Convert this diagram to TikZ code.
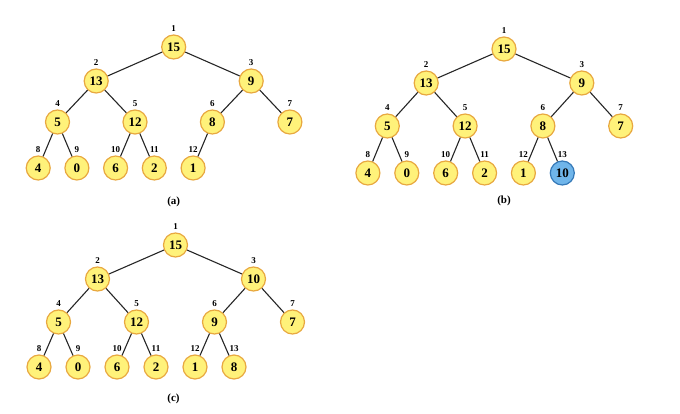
\documentclass[tikz,border=0pt]{standalone}
\usepackage{fontspec}
\setmainfont{Liberation Serif}
\usetikzlibrary{positioning}

\definecolor{heapfill}{HTML}{FFF27A}
\definecolor{heapline}{HTML}{E8A840}
\definecolor{newfill}{HTML}{6FB5EA}
\definecolor{newline}{HTML}{3579B8}

\begin{document}
\begin{tikzpicture}[
    x=1pt, y=-1pt,
    key/.style={circle, draw=heapline, fill=heapfill, line width=1.2pt,
      minimum size=24pt, inner sep=0pt, font=\fontsize{13}{13}\selectfont\bfseries},
    inserted/.style={key, draw=newline, fill=newfill},
    idx/.style={font=\fontsize{9}{9}\selectfont\bfseries, inner sep=1pt, label distance=2pt},
    caption/.style={font=\fontsize{11}{11}\selectfont\bfseries},
    edge/.style={line width=1.1pt, black!85}
  ]
  \useasboundingbox (0,0) rectangle (680,414);

  % (a) the heap
  \begin{scope}[shift={(173.7,47)}]
    \node[key, label={[idx]above:1}] (a1) at (0,0) {15};
    \node[key, label={[idx]above:2}] (a2) at (-77.5,34) {13};
    \node[key, label={[idx]above:3}] (a3) at (77.5,34) {9};
    \node[key, label={[idx]above:4}] (a4) at (-116.2,75) {5};
    \node[key, label={[idx]above:5}] (a5) at (-38.7,75) {12};
    \node[key, label={[idx]above:6}] (a6) at (38.7,75) {8};
    \node[key, label={[idx]above:7}] (a7) at (116.2,75) {7};
    \node[key, label={[idx]above:8}] (a8) at (-135.5,121) {4};
    \node[key, label={[idx]above:9}] (a9) at (-96.8,121) {0};
    \node[key, label={[idx]above:10}] (a10) at (-58.1,121) {6};
    \node[key, label={[idx]above:11}] (a11) at (-19.4,121) {2};
    \node[key, label={[idx]above:12}] (a12) at (19.4,121) {1};
    \node[caption] (capa) at (0,155) {(a)};
    \draw[edge] (a1) -- (a2) (a1) -- (a3);
    \draw[edge] (a2) -- (a4) (a2) -- (a5) (a3) -- (a6) (a3) -- (a7);
    \draw[edge] (a4) -- (a8) (a4) -- (a9) (a5) -- (a10) (a5) -- (a11);
    \draw[edge] (a6) -- (a12);
  \end{scope}

  % (b) new key added at position 13
  \begin{scope}[shift={(504,49)}]
    \node[key, label={[idx]above:1}] (b1) at (0,0) {15};
    \node[key, label={[idx]above:2}] (b2) at (-77.8,34) {13};
    \node[key, label={[idx]above:3}] (b3) at (77.8,34) {9};
    \node[key, label={[idx]above:4}] (b4) at (-116.7,77) {5};
    \node[key, label={[idx]above:5}] (b5) at (-38.9,77) {12};
    \node[key, label={[idx]above:6}] (b6) at (38.9,77) {8};
    \node[key, label={[idx]above:7}] (b7) at (116.7,77) {7};
    \node[key, label={[idx]above:8}] (b8) at (-136.1,124) {4};
    \node[key, label={[idx]above:9}] (b9) at (-97.2,124) {0};
    \node[key, label={[idx]above:10}] (b10) at (-58.3,124) {6};
    \node[key, label={[idx]above:11}] (b11) at (-19.4,124) {2};
    \node[key, label={[idx]above:12}] (b12) at (19.4,124) {1};
    \node[inserted, label={[idx]above:13}] (b13) at (58.3,124) {10};
    \node[caption] (capb) at (0,152) {(b)};
    \draw[edge] (b1) -- (b2) (b1) -- (b3);
    \draw[edge] (b2) -- (b4) (b2) -- (b5) (b3) -- (b6) (b3) -- (b7);
    \draw[edge] (b4) -- (b8) (b4) -- (b9) (b5) -- (b10) (b5) -- (b11);
    \draw[edge] (b6) -- (b12) (b6) -- (b13);
  \end{scope}

  % (c) after sifting up
  \begin{scope}[shift={(175.5,245)}]
    \node[key, label={[idx]above:1}] (c1) at (0,0) {15};
    \node[key, label={[idx]above:2}] (c2) at (-78,34) {13};
    \node[key, label={[idx]above:3}] (c3) at (78,34) {10};
    \node[key, label={[idx]above:4}] (c4) at (-117,77) {5};
    \node[key, label={[idx]above:5}] (c5) at (-39,77) {12};
    \node[key, label={[idx]above:6}] (c6) at (39,77) {9};
    \node[key, label={[idx]above:7}] (c7) at (117,77) {7};
    \node[key, label={[idx]above:8}] (c8) at (-136.5,122) {4};
    \node[key, label={[idx]above:9}] (c9) at (-97.5,122) {0};
    \node[key, label={[idx]above:10}] (c10) at (-58.5,122) {6};
    \node[key, label={[idx]above:11}] (c11) at (-19.5,122) {2};
    \node[key, label={[idx]above:12}] (c12) at (19.5,122) {1};
    \node[key, label={[idx]above:13}] (c13) at (58.5,122) {8};
    \node[caption] (capc) at (-2,154) {(c)};
    \draw[edge] (c1) -- (c2) (c1) -- (c3);
    \draw[edge] (c2) -- (c4) (c2) -- (c5) (c3) -- (c6) (c3) -- (c7);
    \draw[edge] (c4) -- (c8) (c4) -- (c9) (c5) -- (c10) (c5) -- (c11);
    \draw[edge] (c6) -- (c12) (c6) -- (c13);
  \end{scope}
\end{tikzpicture}
\end{document}
